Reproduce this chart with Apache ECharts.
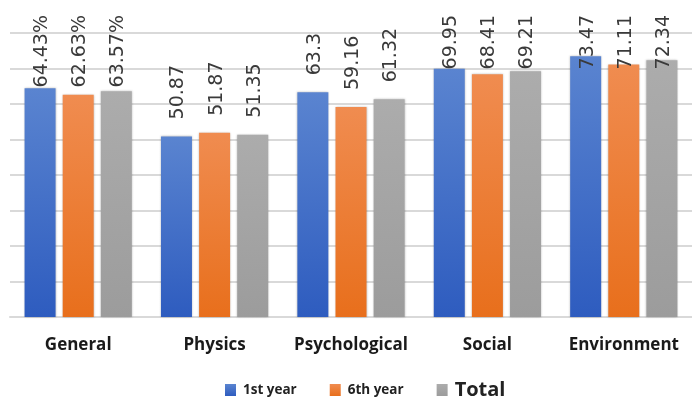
<!DOCTYPE html>
<html>
<head>
<meta charset="utf-8">
<script src="https://cdn.jsdelivr.net/npm/echarts@6/dist/echarts.min.js"></script>
<style>
html,body{margin:0;padding:0;background:#fff;}
#c{width:692px;height:398px;}
</style>
</head>
<body>
<div id="c"></div>
<script>
const categories = ['General', 'Physics', 'Psychological', 'Social', 'Environment'];
const firstYear = [64.43, 50.87, 63.3, 69.95, 73.47];
const sixthYear = [62.63, 51.87, 59.16, 68.41, 71.11];
const total = [63.57, 51.35, 61.32, 69.21, 72.34];
const labelSuffix = ['%', '', '', '', ''];
const seriesNames = ['1st year', '6th year', 'Total'];

const chart = echarts.init(document.getElementById('c'), null, {renderer: 'canvas'});

function grad(top, bottom) {
  return new echarts.graphic.LinearGradient(0, 0, 0, 1, [
    {offset: 0, color: top}, {offset: 1, color: bottom}
  ]);
}

const labelOpt = {
  show: true,
  position: 'top',
  rotate: 90,
  align: 'left',
  verticalAlign: 'middle',
  fontFamily: 'DejaVu Sans',
  fontSize: 19,
  color: '#3a3a3a',
  formatter: function (p) { return p.value + labelSuffix[p.dataIndex]; }
};

function makeSeries(name, data, color) {
  return {
    name: name,
    type: 'bar',
    data: data,
    barWidth: 31,
    barGap: '23%',
    itemStyle: {color: color, shadowBlur: 2, shadowColor: 'rgba(0,0,0,0.25)'},
    label: labelOpt,
    labelLayout: function (params) {
      const r = params.rect;
      const lr = params.labelRect;
      return {
        x: r.x + r.width / 2 + 2,
        y: Math.max(r.y - 17, 15 + lr.height),
        align: 'left',
        verticalAlign: 'middle'
      };
    }
  };
}

chart.setOption({
  animation: false,
  backgroundColor: '#ffffff',
  grid: {left: 10, top: 33, width: 690, bottom: 81, containLabel: false},
  legend: {
    left: 220,
    top: 375,
    itemWidth: 11,
    itemHeight: 12,
    itemGap: 33,
    icon: 'rect',
    textStyle: {fontFamily: 'Open Sans', fontWeight: 'bold', fontSize: 13.5, color: '#222', padding: [0, 0, 0, 2]},
    data: [
      {name: seriesNames[0]},
      {name: seriesNames[1]},
      {name: seriesNames[2], textStyle: {fontSize: 20, color: '#222'}}
    ]
  },
  xAxis: {
    type: 'category',
    data: categories,
    axisLine: {show: true, lineStyle: {color: '#d9d9d9', width: 2}},
    axisTick: {show: false},
    axisLabel: {
      margin: 20,
      interval: 0,
      fontFamily: 'Open Sans',
      fontWeight: 'bold',
      fontSize: 17,
      color: '#1a1a1a'
    }
  },
  yAxis: {
    type: 'value',
    min: 0,
    max: 80,
    interval: 10,
    axisLabel: {show: false},
    axisLine: {show: false},
    axisTick: {show: false},
    splitLine: {lineStyle: {color: '#d9d9d9', width: 2}}
  },
  series: [
    makeSeries(seriesNames[0], firstYear, grad('#5a84d0', '#2e5cbf')),
    makeSeries(seriesNames[1], sixthYear, grad('#f08c50', '#e86f1c')),
    makeSeries(seriesNames[2], total, grad('#acacac', '#9c9c9c'))
  ]
});
</script>
</body>
</html>
